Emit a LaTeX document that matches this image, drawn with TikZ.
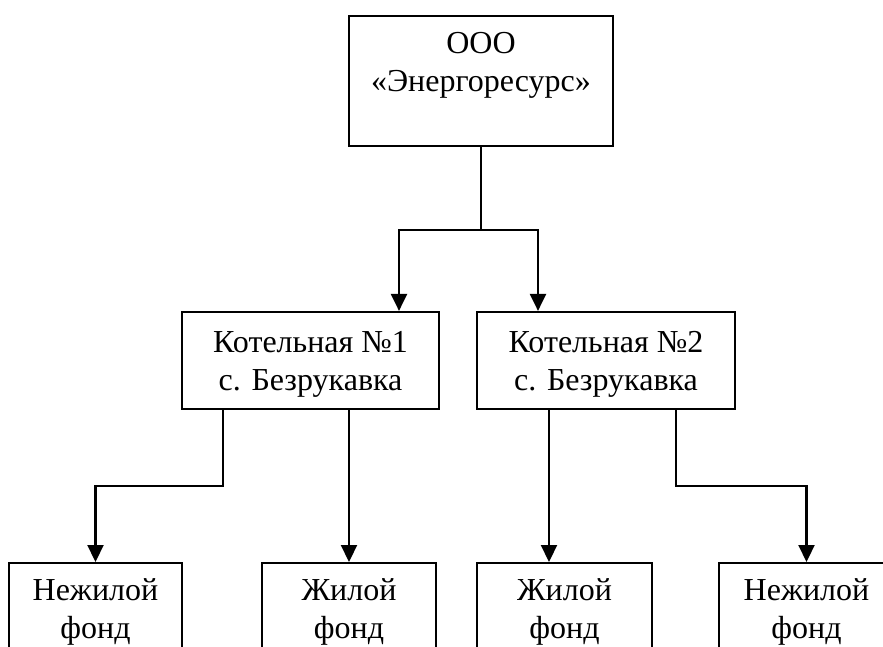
\documentclass[tikz,border=0pt]{standalone}
\usepackage{fontspec}
\setmainfont{Liberation Serif}
\usetikzlibrary{arrows.meta, positioning}

\begin{document}
\begin{tikzpicture}[
  x=1pt, y=-1pt,
  every node/.style={font=\fontsize{32pt}{38pt}\selectfont},
  unit/.style={rectangle, draw, line width=2.2pt, align=center, minimum width=#1, inner sep=0pt},
  arr/.style={-{Triangle[length=17pt, width=16pt]}, line width=2.2pt},
  line/.style={line width=2.2pt},
]
  \useasboundingbox (0,0) rectangle (883,647);
  \clip (0,0) rectangle (883,647);

  % Head company
  \node[unit=264pt, minimum height=130pt, text height=60pt, text depth=38pt] (ooo) at (481, 81)
    {ООО\\«Энергоресурс»};

  % Boiler houses
  \node[unit=257pt, minimum height=97pt, text height=59pt, text depth=0pt] (kot1) at (310.5, 360.5)
    {Котельная №1\\с. Безрукавка};
  \node[unit=258pt, minimum height=97pt, text height=59pt, text depth=0pt] (kot2) at (606, 360.5)
    {Котельная №2\\с. Безрукавка};

  % Housing stock
  \tikzset{fund/.style={unit=#1, minimum height=100pt, text height=60pt, text depth=10pt, anchor=north}}
  \node[fund=173pt] (nezh1) at (95.5, 562) {Нежилой\\фонд};
  \node[fund=174pt] (zh1) at (349, 562) {Жилой\\фонд};
  \node[fund=175pt] (zh2) at (564.5, 562) {Жилой\\фонд};
  \node[fund=175pt] (nezh2) at (806.5, 562) {Нежилой\\фонд};

  % Branch points
  \coordinate (split) at ([yshift=-83pt]ooo.south);
  \coordinate (in1) at ([xshift=88.5pt]kot1.north);
  \coordinate (in2) at ([xshift=-68pt]kot2.north);
  \coordinate (out1) at ([xshift=-87.5pt]kot1.south);
  \coordinate (out2) at ([xshift=70pt]kot2.south);
  \coordinate (in3) at ([xshift=-15.5pt]zh2.north);

  % Arrows
  \draw[line] (ooo.south) -- (split);
  \draw[arr] (split) -| (in1);
  \draw[arr] (split) -| (in2);

  \draw[arr] (out1) -- ++(0,76) -| (nezh1.north);
  \draw[arr] (zh1.north |- kot1.south) -- (zh1.north);
  \draw[arr] (in3 |- kot2.south) -- (in3);
  \draw[arr] (out2) -- ++(0,76) -| (nezh2.north);
\end{tikzpicture}
\end{document}
